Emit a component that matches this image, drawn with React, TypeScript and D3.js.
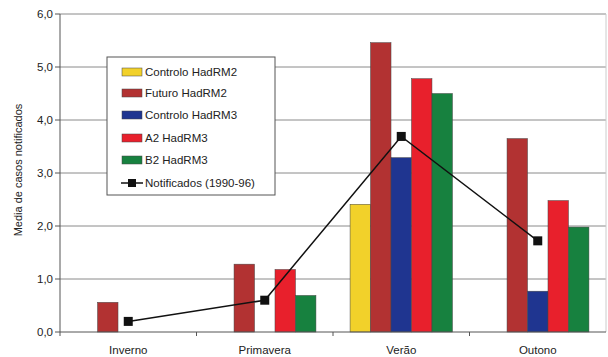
import React from "react";
import * as d3 from "d3";

const categories = ["Inverno", "Primavera", "Verão", "Outono"];
const seriesNames = ["Controlo HadRM2", "Futuro HadRM2", "Controlo HadRM3", "A2 HadRM3", "B2 HadRM3"];
const controloHadRM2 = [0, 0, 2.41, 0];
const futuroHadRM2 = [0.56, 1.28, 5.46, 3.65];
const controloHadRM3 = [0, 0, 3.29, 0.77];
const a2HadRM3 = [0, 1.18, 4.78, 2.48];
const b2HadRM3 = [0, 0.69, 4.5, 1.98];
const notificados = [0.2, 0.6, 3.69, 1.72];
const notifName = "Notificados (1990-96)";
const yTicks = [0, 1, 2, 3, 4, 5, 6];
const colors = ["#f2d12a", "#b23232", "#1f3590", "#e8202c", "#17813f"];

export default function App() {
  const W = 608, H = 357;
  const left = 60, right = 606, top = 14, bottom = 332;
  const series = [controloHadRM2, futuroHadRM2, controloHadRM3, a2HadRM3, b2HadRM3];
  const x = d3.scaleBand().domain(categories).range([left, right]).paddingInner(0.25).paddingOuter(0.125);
  const xc = d3.scaleBand().domain(categories).range([left, right]);
  const inner = d3.scaleBand().domain(seriesNames).range([0, x.bandwidth()]);
  const y = d3.scaleLinear().domain([0, 6]).range([bottom, top]);
  const line = d3.line<number>().x((_, i) => xc(categories[i])! + xc.bandwidth() / 2).y((d) => y(d));
  const font = "Arial, 'Liberation Sans', sans-serif";
  const legendY = [72, 93, 115, 138, 160, 183];
  return (
    <svg width={W} height={H} style={{ position: "absolute", left: 0, top: 0, background: "#fff" }} fontFamily={font}>
      {yTicks.map((t) => (
        <g key={t}>
          {t > 0 && <line x1={left} x2={right} y1={y(t)} y2={y(t)} stroke="#8a8a8a" strokeWidth={1} />}
          <line x1={left - 5} x2={left} y1={y(t)} y2={y(t)} stroke="#555" />
          <text x={left - 7} y={y(t)} dy="0.35em" textAnchor="end" fontSize={11.5} fill="#222">
            {t.toFixed(1).replace(".", ",")}
          </text>
        </g>
      ))}
      <line x1={right} x2={right} y1={top} y2={bottom} stroke="#ccc" />
      {categories.map((c, ci) =>
        series.map((s, si) =>
          s[ci] > 0 ? (
            <rect
              key={c + si}
              x={x(c)! + inner(seriesNames[si])!}
              y={y(s[ci])}
              width={inner.bandwidth()}
              height={bottom - y(s[ci])}
              fill={colors[si]}
              stroke="#444"
              strokeWidth={0.5}
            />
          ) : null
        )
      )}
      <line x1={left} x2={left} y1={top} y2={bottom} stroke="#555" />
      <line x1={left} x2={right} y1={bottom} y2={bottom} stroke="#555" />
      {categories.map((c, i) => (
        <g key={c}>
          <line x1={xc(c)!} x2={xc(c)!} y1={bottom} y2={bottom + 4} stroke="#555" />
          <text x={xc(c)! + xc.bandwidth() / 2} y={354} textAnchor="middle" fontSize={11.5} fill="#222">
            {c}
          </text>
        </g>
      ))}
      <path d={line(notificados)!} fill="none" stroke="#111" strokeWidth={1.5} />
      {notificados.map((v, i) => (
        <rect
          key={i}
          x={xc(categories[i])! + xc.bandwidth() / 2 - 4.5}
          y={y(v) - 4.5}
          width={9}
          height={9}
          fill="#111"
        />
      ))}
      <text transform={`translate(22,170) rotate(-90)`} textAnchor="middle" fontSize={11} fill="#222">
        Media de casos notificados
      </text>
      <g>
        <rect x={107} y={57} width={168} height={138} fill="#fff" stroke="#555" />
        {seriesNames.map((n, i) => (
          <g key={n}>
            <rect x={122} y={legendY[i] - 4} width={20} height={8} fill={colors[i]} stroke="#444" strokeWidth={0.5} />
            <text x={145} y={legendY[i]} dy="0.35em" fontSize={11.5} fill="#222">
              {n}
            </text>
          </g>
        ))}
        <line x1={121} x2={143} y1={legendY[5]} y2={legendY[5]} stroke="#111" strokeWidth={1.5} />
        <rect x={128} y={legendY[5] - 4} width={8} height={8} fill="#111" />
        <text x={145} y={legendY[5]} dy="0.35em" fontSize={11.5} fill="#222">
          {notifName}
        </text>
      </g>
    </svg>
  );
}
